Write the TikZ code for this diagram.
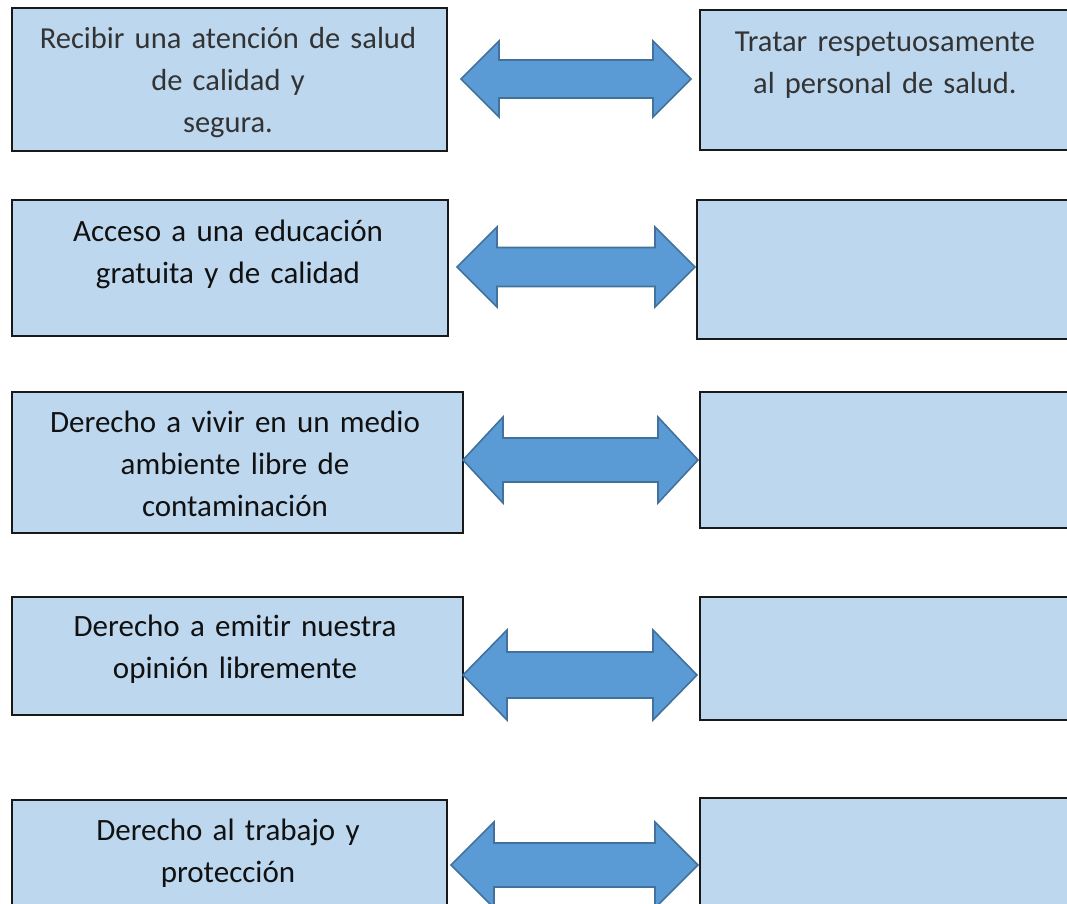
\documentclass[tikz,border=0pt]{standalone}
\usepackage{fontspec}
\setmainfont{Carlito}[Ligatures=NoCommon]
\definecolor{boxfill}{HTML}{BDD7EE}
\definecolor{arrfill}{HTML}{5B9BD5}
\definecolor{arrline}{HTML}{41719C}
\definecolor{txt}{HTML}{111111}
\newcommand\DblArrow[7]{% name, x1, x2, yc, H, s, h
  \coordinate (#1-l) at (#2,#4);
  \coordinate (#1-r) at (#3,#4);
  \draw[dblarrow] (#1-l) -- ++(#7,-#5) -- ++(0,#5-#6) -- ($(#1-r)+(-#7,-#6)$) -- ++(0,#6-#5) -- (#1-r)
    -- ++(-#7,#5) -- ++(0,#6-#5) -- ($(#1-l)+(#7,#6)$) -- ++(0,#5-#6) -- cycle;
}
\usetikzlibrary{calc}
\begin{document}
\begin{tikzpicture}[x=1pt,y=-1pt,
  rbox/.style={draw=black!90,line width=1.6pt,fill=boxfill},
  dblarrow/.style={draw=arrline,line width=1.6pt,fill=arrfill,line join=miter},
  lbl/.style={anchor=base,text width=440pt,align=center,inner sep=0pt,text=txt,
    font=\fontsize{31}{42}\selectfont},
  lbllight/.style={lbl,text=black!80,font=\fontsize{30.5}{42}\selectfont}]
\useasboundingbox (0,0) rectangle (1067,903);
\clip (0,0) rectangle (1067,903);
% row 1
\path[rbox] (12,8) rectangle (447,151);
\node[lbllight] (l1) at (228,48) {Recibir una atención de salud\\de calidad y\\segura.};
\path[rbox] (700,10) rectangle (1076,150);
\node[lbllight] (r1) at (885,51) {Tratar respetuosamente\\al personal de salud.};
\DblArrow{a1}{461}{691}{79}{38}{19}{38}
% row 2
\path[rbox] (12,200) rectangle (448,336);
\node[lbl] (l2) at (228,241) {Acceso a una educación\\gratuita y de calidad};
\path[rbox] (697,200) rectangle (1076,339);
\DblArrow{a2}{457}{695}{267}{40}{19.5}{40}
% row 3
\path[rbox] (12,392) rectangle (463,533);
\node[lbl] (l3) at (235,432) {Derecho a vivir en un medio\\ambiente libre de\\contaminación};
\path[rbox] (700,392) rectangle (1076,528);
\DblArrow{a3}{463}{698}{460}{43}{22}{40}
% row 4
\path[rbox] (12,597) rectangle (463,715);
\node[lbl] (l4) at (235,636) {Derecho a emitir nuestra\\opinión libremente};
\path[rbox] (700,597) rectangle (1076,720);
\DblArrow{a4}{463}{697}{675}{45}{23}{44}
% row 5
\path[rbox] (12,800) rectangle (447,915);
\node[lbl] (l5) at (228,840) {Derecho al trabajo y\\protección};
\path[rbox] (700,798) rectangle (1076,915);
\DblArrow{a5}{451}{698}{865}{43}{22}{43}
\end{tikzpicture}
\end{document}
